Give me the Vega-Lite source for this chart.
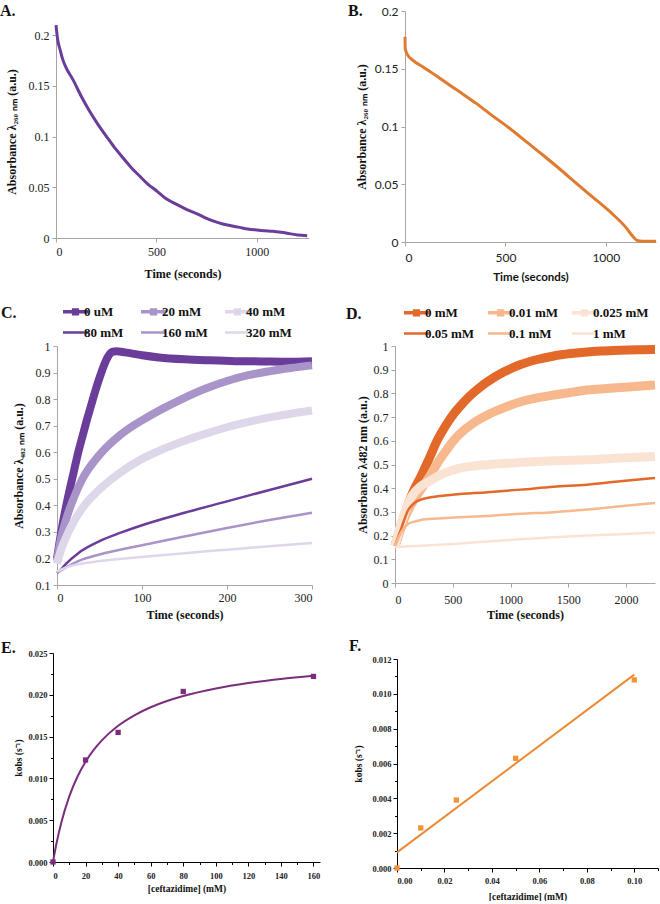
{
  "$schema": "https://vega.github.io/schema/vega-lite/v6.json",
  "background": "white",
  "padding": {"left": 0, "top": 3, "right": 0, "bottom": 0},
  "autosize": {"type": "pad"},
  "config": {
    "view": {"stroke": null},
    "font": "Liberation Serif",
    "axis": {"grid": false, "labelOverlap": false, "domainColor": "#a6a6a6", "tickColor": "#a6a6a6", "labelColor": "#222222", "titleColor": "#111111", "labelFont": "Liberation Serif", "titleFont": "Liberation Serif", "labelFontSize": 12, "titleFontSize": 12, "titleFontWeight": "bold", "tickSize": 4, "labelPadding": 3},
    "title": {"font": "Liberation Serif", "fontSize": 16, "fontWeight": "bold", "color": "#111111", "anchor": "start", "frame": "group"}
  },
  "datasets": {
    "A": [
      {"t":0,"v":0.2098},{"t":8,"v":0.196},{"t":22,"v":0.1845},{"t":33,"v":0.1763},{"t":50,"v":0.168},{"t":83,"v":0.1566},{"t":125,"v":0.140},{"t":166,"v":0.1254},{"t":208,"v":0.1123},{"t":249,"v":0.1008},{"t":291,"v":0.0893},{"t":332,"v":0.0794},{"t":374,"v":0.0696},{"t":415,"v":0.0614},{"t":457,"v":0.0532},{"t":500,"v":0.0466},{"t":540,"v":0.040},{"t":581,"v":0.0351},{"t":623,"v":0.0309},{"t":664,"v":0.0269},{"t":706,"v":0.0236},{"t":747,"v":0.0197},{"t":789,"v":0.0164},{"t":830,"v":0.0138},{"t":872,"v":0.0121},{"t":914,"v":0.0105},{"t":955,"v":0.0089},{"t":1000,"v":0.0079},{"t":1038,"v":0.0072},{"t":1080,"v":0.0066},{"t":1121,"v":0.0056},{"t":1163,"v":0.0043},{"t":1204,"v":0.003},{"t":1251,"v":0.0023}
    ],
    "B": [
      {"t":0,"v":0.1777},{"t":1,"v":0.168},{"t":5,"v":0.165},{"t":13,"v":0.162},{"t":38,"v":0.1575},{"t":88,"v":0.1517},{"t":138,"v":0.146},{"t":188,"v":0.140},{"t":272,"v":0.130},{"t":355,"v":0.120},{"t":438,"v":0.109},{"t":522,"v":0.0983},{"t":605,"v":0.0867},{"t":688,"v":0.0751},{"t":772,"v":0.063},{"t":855,"v":0.0506},{"t":938,"v":0.0384},{"t":1022,"v":0.026},{"t":1105,"v":0.0116},{"t":1130,"v":0.0058},{"t":1155,"v":0.0014},{"t":1180,"v":0.0006},{"t":1250,"v":0.0006}
    ],
    "C": [
      {"s":"0 uM","t":0,"v":0.2},{"s":"0 uM","t":5,"v":0.3},{"s":"0 uM","t":10,"v":0.385},{"s":"0 uM","t":15,"v":0.46},{"s":"0 uM","t":20,"v":0.53},{"s":"0 uM","t":25,"v":0.6},{"s":"0 uM","t":30,"v":0.66},{"s":"0 uM","t":35,"v":0.72},{"s":"0 uM","t":40,"v":0.775},{"s":"0 uM","t":45,"v":0.83},{"s":"0 uM","t":50,"v":0.88},{"s":"0 uM","t":55,"v":0.925},{"s":"0 uM","t":60,"v":0.96},{"s":"0 uM","t":65,"v":0.978},{"s":"0 uM","t":70,"v":0.98},{"s":"0 uM","t":80,"v":0.976},{"s":"0 uM","t":100,"v":0.965},{"s":"0 uM","t":120,"v":0.957},{"s":"0 uM","t":150,"v":0.95},{"s":"0 uM","t":180,"v":0.946},{"s":"0 uM","t":210,"v":0.943},{"s":"0 uM","t":240,"v":0.942},{"s":"0 uM","t":270,"v":0.941},{"s":"0 uM","t":300,"v":0.943},
      {"s":"20 mM","t":0,"v":0.19},{"s":"20 mM","t":5,"v":0.28},{"s":"20 mM","t":10,"v":0.34},{"s":"20 mM","t":20,"v":0.43},{"s":"20 mM","t":30,"v":0.5},{"s":"20 mM","t":50,"v":0.59},{"s":"20 mM","t":67,"v":0.645},{"s":"20 mM","t":85,"v":0.69},{"s":"20 mM","t":100,"v":0.72},{"s":"20 mM","t":125,"v":0.765},{"s":"20 mM","t":150,"v":0.805},{"s":"20 mM","t":175,"v":0.84},{"s":"20 mM","t":200,"v":0.868},{"s":"20 mM","t":225,"v":0.89},{"s":"20 mM","t":250,"v":0.905},{"s":"20 mM","t":275,"v":0.917},{"s":"20 mM","t":300,"v":0.927},
      {"s":"40 mM","t":0,"v":0.18},{"s":"40 mM","t":5,"v":0.235},{"s":"40 mM","t":10,"v":0.275},{"s":"40 mM","t":20,"v":0.34},{"s":"40 mM","t":30,"v":0.39},{"s":"40 mM","t":50,"v":0.46},{"s":"40 mM","t":75,"v":0.525},{"s":"40 mM","t":100,"v":0.575},{"s":"40 mM","t":125,"v":0.612},{"s":"40 mM","t":150,"v":0.643},{"s":"40 mM","t":175,"v":0.67},{"s":"40 mM","t":200,"v":0.694},{"s":"40 mM","t":225,"v":0.714},{"s":"40 mM","t":250,"v":0.731},{"s":"40 mM","t":275,"v":0.745},{"s":"40 mM","t":300,"v":0.757},
      {"s":"80 mM","t":0,"v":0.145},{"s":"80 mM","t":5,"v":0.16},{"s":"80 mM","t":10,"v":0.178},{"s":"80 mM","t":25,"v":0.22},{"s":"80 mM","t":50,"v":0.265},{"s":"80 mM","t":75,"v":0.297},{"s":"80 mM","t":100,"v":0.325},{"s":"80 mM","t":150,"v":0.372},{"s":"80 mM","t":200,"v":0.415},{"s":"80 mM","t":250,"v":0.458},{"s":"80 mM","t":300,"v":0.5},
      {"s":"160 mM","t":0,"v":0.145},{"s":"160 mM","t":10,"v":0.165},{"s":"160 mM","t":25,"v":0.19},{"s":"160 mM","t":50,"v":0.215},{"s":"160 mM","t":100,"v":0.25},{"s":"160 mM","t":150,"v":0.283},{"s":"160 mM","t":200,"v":0.315},{"s":"160 mM","t":250,"v":0.345},{"s":"160 mM","t":300,"v":0.372},
      {"s":"320 mM","t":0,"v":0.15},{"s":"320 mM","t":10,"v":0.165},{"s":"320 mM","t":25,"v":0.178},{"s":"320 mM","t":50,"v":0.19},{"s":"320 mM","t":100,"v":0.205},{"s":"320 mM","t":150,"v":0.22},{"s":"320 mM","t":200,"v":0.233},{"s":"320 mM","t":250,"v":0.246},{"s":"320 mM","t":300,"v":0.258}
    ],
    "D": [
      {"s":"0 mM","t":0,"v":0.157},{"s":"0 mM","t":40,"v":0.22},{"s":"0 mM","t":80,"v":0.283},{"s":"0 mM","t":152,"v":0.38},{"s":"0 mM","t":224,"v":0.45},{"s":"0 mM","t":300,"v":0.53},{"s":"0 mM","t":368,"v":0.604},{"s":"0 mM","t":440,"v":0.665},{"s":"0 mM","t":512,"v":0.716},{"s":"0 mM","t":584,"v":0.757},{"s":"0 mM","t":656,"v":0.793},{"s":"0 mM","t":728,"v":0.823},{"s":"0 mM","t":800,"v":0.849},{"s":"0 mM","t":944,"v":0.891},{"s":"0 mM","t":1087,"v":0.922},{"s":"0 mM","t":1231,"v":0.943},{"s":"0 mM","t":1375,"v":0.958},{"s":"0 mM","t":1519,"v":0.968},{"s":"0 mM","t":1663,"v":0.975},{"s":"0 mM","t":1807,"v":0.979},{"s":"0 mM","t":1950,"v":0.982},{"s":"0 mM","t":2100,"v":0.984},{"s":"0 mM","t":2250,"v":0.985},
      {"s":"0.01 mM","t":0,"v":0.157},{"s":"0.01 mM","t":40,"v":0.215},{"s":"0.01 mM","t":80,"v":0.27},{"s":"0.01 mM","t":152,"v":0.34},{"s":"0.01 mM","t":224,"v":0.394},{"s":"0.01 mM","t":300,"v":0.45},{"s":"0.01 mM","t":368,"v":0.506},{"s":"0.01 mM","t":440,"v":0.557},{"s":"0.01 mM","t":512,"v":0.604},{"s":"0.01 mM","t":584,"v":0.64},{"s":"0.01 mM","t":656,"v":0.667},{"s":"0.01 mM","t":728,"v":0.69},{"s":"0.01 mM","t":800,"v":0.709},{"s":"0.01 mM","t":944,"v":0.74},{"s":"0.01 mM","t":1087,"v":0.765},{"s":"0.01 mM","t":1231,"v":0.781},{"s":"0.01 mM","t":1375,"v":0.793},{"s":"0.01 mM","t":1519,"v":0.804},{"s":"0.01 mM","t":1663,"v":0.814},{"s":"0.01 mM","t":1807,"v":0.82},{"s":"0.01 mM","t":1950,"v":0.825},{"s":"0.01 mM","t":2100,"v":0.83},{"s":"0.01 mM","t":2250,"v":0.835},
      {"s":"0.025 mM","t":0,"v":0.157},{"s":"0.025 mM","t":40,"v":0.23},{"s":"0.025 mM","t":80,"v":0.29},{"s":"0.025 mM","t":109,"v":0.33},{"s":"0.025 mM","t":150,"v":0.37},{"s":"0.025 mM","t":224,"v":0.408},{"s":"0.025 mM","t":300,"v":0.43},{"s":"0.025 mM","t":368,"v":0.45},{"s":"0.025 mM","t":512,"v":0.478},{"s":"0.025 mM","t":656,"v":0.492},{"s":"0.025 mM","t":800,"v":0.499},{"s":"0.025 mM","t":1087,"v":0.509},{"s":"0.025 mM","t":1375,"v":0.516},{"s":"0.025 mM","t":1663,"v":0.52},{"s":"0.025 mM","t":1950,"v":0.527},{"s":"0.025 mM","t":2250,"v":0.534},
      {"s":"0.05 mM","t":0,"v":0.157},{"s":"0.05 mM","t":52,"v":0.227},{"s":"0.05 mM","t":109,"v":0.303},{"s":"0.05 mM","t":167,"v":0.338},{"s":"0.05 mM","t":224,"v":0.352},{"s":"0.05 mM","t":300,"v":0.361},{"s":"0.05 mM","t":368,"v":0.366},{"s":"0.05 mM","t":512,"v":0.373},{"s":"0.05 mM","t":800,"v":0.383},{"s":"0.05 mM","t":1087,"v":0.394},{"s":"0.05 mM","t":1375,"v":0.406},{"s":"0.05 mM","t":1663,"v":0.415},{"s":"0.05 mM","t":1950,"v":0.429},{"s":"0.05 mM","t":2250,"v":0.443},
      {"s":"0.1 mM","t":0,"v":0.157},{"s":"0.1 mM","t":52,"v":0.213},{"s":"0.1 mM","t":109,"v":0.248},{"s":"0.1 mM","t":167,"v":0.259},{"s":"0.1 mM","t":224,"v":0.266},{"s":"0.1 mM","t":368,"v":0.272},{"s":"0.1 mM","t":512,"v":0.276},{"s":"0.1 mM","t":800,"v":0.283},{"s":"0.1 mM","t":1087,"v":0.292},{"s":"0.1 mM","t":1375,"v":0.299},{"s":"0.1 mM","t":1663,"v":0.31},{"s":"0.1 mM","t":1950,"v":0.324},{"s":"0.1 mM","t":2250,"v":0.338},
      {"s":"1 mM","t":0,"v":0.152},{"s":"1 mM","t":224,"v":0.157},{"s":"1 mM","t":512,"v":0.165},{"s":"1 mM","t":800,"v":0.175},{"s":"1 mM","t":1087,"v":0.185},{"s":"1 mM","t":1375,"v":0.193},{"s":"1 mM","t":1663,"v":0.2},{"s":"1 mM","t":1950,"v":0.206},{"s":"1 mM","t":2250,"v":0.213}
    ],
    "Ecurve": [
      {"c":0,"k":0},{"c":2,"k":0.002086},{"c":5,"k":0.004643},{"c":10,"k":0.007852},{"c":15,"k":0.010201},{"c":20,"k":0.011995},{"c":25,"k":0.013411},{"c":30,"k":0.014556},{"c":40,"k":0.016295},{"c":50,"k":0.017553},{"c":60,"k":0.018506},{"c":70,"k":0.019253},{"c":80,"k":0.019854},{"c":100,"k":0.02076},{"c":120,"k":0.021412},{"c":140,"k":0.021903},{"c":160,"k":0.022287}
    ],
    "Epts": [
      {"c":0,"k":0},{"c":20,"k":0.0122},{"c":40,"k":0.0155},{"c":80,"k":0.0204},{"c":160,"k":0.0222}
    ],
    "Fline": [
      {"c":0,"k":0.0009},{"c":0.1,"k":0.0111}
    ],
    "Fpts": [
      {"c":0,"k":0},{"c":0.01,"k":0.0023},{"c":0.025,"k":0.0039},{"c":0.05,"k":0.0063},{"c":0.1,"k":0.0108}
    ]
  },
  "spacing": 18,
  "resolve": {"scale": {"color": "independent"}, "legend": {"color": "independent"}},
  "hconcat": [
    {
      "spacing": 26,
      "resolve": {"scale": {"color": "independent"}, "legend": {"color": "independent"}},
      "vconcat": [
        {
          "width": 256, "height": 227,
          "title": {"text": "A.", "dx": -53, "offset": -8},
          "data": {"name": "A"},
          "mark": {"type": "line", "color": "#6a3d9a", "strokeWidth": 3, "interpolate": "monotone"},
          "encoding": {
            "x": {"field": "t", "type": "quantitative", "scale": {"domain": [0, 1260], "nice": false, "range": [3, 256]}, "axis": {"values": [0, 500, 1000], "format": "d", "title": "Time (seconds)", "titlePadding": 11, "labelPadding": 4}},
            "y": {"field": "v", "type": "quantitative", "scale": {"domain": [0, 0.21], "nice": false, "range": [227, 14]}, "axis": {"values": [0, 0.05, 0.1, 0.15, 0.2], "format": "~g", "offset": -3, "title": "Absorbance λ₂₆₀ ₙₘ (a.u.)", "titlePadding": 10}}
          }
        },
        {
          "spacing": 20,
          "resolve": {"scale": {"color": "independent"}, "legend": {"color": "independent"}},
          "vconcat": [
            {
              "width": 259, "height": 239,
              "title": {"text": "C.", "dx": -52, "dy": 16, "offset": 0},
              "data": {"name": "C"},
              "encoding": {
                "x": {"field": "t", "type": "quantitative", "scale": {"domain": [0, 300], "nice": false, "range": [4, 259]}, "axis": {"values": [0, 100, 200, 300], "format": "d", "title": "Time (seconds)", "titlePadding": 6, "labelPadding": 3}},
                "y": {"field": "v", "type": "quantitative", "scale": {"domain": [0.1, 1], "nice": false, "zero": false}, "axis": {"values": [0.1, 0.2, 0.3, 0.4, 0.5, 0.6, 0.7, 0.8, 0.9, 1], "format": "~g", "offset": -4, "title": "Absorbance λ₄₈₂ ₙₘ (a.u.)", "titlePadding": 10}},
                "color": {"field": "s", "type": "nominal", "scale": {"domain": ["0 uM", "20 mM", "40 mM", "80 mM", "160 mM", "320 mM"], "range": ["#6a3d9a", "#a894c8", "#ded7ea", "#6a3d9a", "#a894c8", "#ded7ea"]},
                  "legend": {"orient": "top", "direction": "horizontal", "columns": 3, "title": null, "symbolType": "stroke", "symbolSize": 625, "symbolStrokeWidth": 3, "symbolOffset": 16, "labelFont": "Liberation Serif", "labelFontSize": 13, "labelFontWeight": "bold", "labelColor": "#111111", "columnPadding": 7, "rowPadding": 5, "offset": -5, "labelOffset": 2, "padding": 0,
                    "encode": {"symbols": {"update": {
                      "shape": {"signal": "indexof(['0 uM','20 mM','40 mM'], datum.value) >= 0 ? 'M-1,0H1M-0.15,-0.15H0.15V0.15H-0.15Z' : 'stroke'"},
                      "strokeWidth": {"signal": "indexof(['0 uM','20 mM','40 mM'], datum.value) >= 0 ? 3.5 : 2.5"},
                      "fill": {"signal": "datum.value === '0 uM' ? '#6a3d9a' : datum.value === '20 mM' ? '#a894c8' : datum.value === '40 mM' ? '#ded7ea' : 'transparent'"}
                    }}}}
                }
              },
              "layer": [
                {"transform": [{"filter": "indexof(['0 uM','20 mM','40 mM'], datum.s) >= 0"}], "mark": {"type": "line", "strokeWidth": 8, "interpolate": "monotone"}},
                {"transform": [{"filter": "indexof(['0 uM','20 mM','40 mM'], datum.s) < 0"}], "mark": {"type": "line", "strokeWidth": 2.5, "interpolate": "monotone"}}
              ]
            },
            {
              "width": 267, "height": 209,
              "title": {"text": "E.", "dx": -52, "dy": 7, "offset": 0},
              "resolve": {"axis": {"x": "independent", "y": "independent"}},
              "layer": [
                {
                  "data": {"name": "Ecurve"},
                  "mark": {"type": "line", "color": "#7b2d7d", "strokeWidth": 2, "interpolate": "monotone"},
                  "encoding": {
                    "x": {"field": "c", "type": "quantitative", "scale": {"domain": [0, 164], "nice": false},
                      "axis": {"orient": "bottom", "values": [0,20,40,60,80,100,120,140,160], "title": "[ceftazidime] (mM)", "domainColor": "#000000", "tickColor": "#000000", "labelFontSize": 8.5, "labelFontWeight": "bold", "titleFontSize": 9.5, "labelPadding": 5, "titlePadding": 4}},
                    "y": {"field": "k", "type": "quantitative", "scale": {"domain": [0, 0.025], "nice": false},
                      "axis": {"orient": "left", "values": [0,0.005,0.01,0.015,0.02,0.025], "format": ".3f", "title": "kobs (s⁻¹)", "domainColor": "#000000", "tickColor": "#000000", "labelFontSize": 8.5, "labelFontWeight": "bold", "titleFontSize": 9.5, "labelPadding": 2, "titlePadding": 4}}
                  }
                },
                {
                  "data": {"name": "Epts"},
                  "mark": {"type": "square", "color": "#7b2d7d", "size": 28, "opacity": 1},
                  "encoding": {
                    "x": {"field": "c", "type": "quantitative", "axis": {"orient": "bottom", "values": [10,30,50,70,90,110,130,150], "labels": false, "domain": false, "title": null, "tickSize": 2.5, "tickColor": "#000000"}},
                    "y": {"field": "k", "type": "quantitative", "axis": {"orient": "left", "values": [0.0025,0.0075,0.0125,0.0175,0.0225], "labels": false, "domain": false, "title": null, "tickSize": 2.5, "tickColor": "#000000"}}
                  }
                }
              ]
            }
          ]
        }
      ]
    },
    {
      "spacing": 23,
      "resolve": {"scale": {"color": "independent"}, "legend": {"color": "independent"}},
      "vconcat": [
        {
          "width": 261, "height": 231,
          "title": {"text": "B.", "dx": -47, "offset": -14},
          "data": {"name": "B"},
          "mark": {"type": "line", "color": "#e07a2e", "strokeWidth": 3, "interpolate": "monotone"},
          "encoding": {
            "x": {"field": "t", "type": "quantitative", "scale": {"domain": [0, 1250], "nice": false, "range": [10, 261]}, "axis": {"values": [0, 500, 1000], "format": "d", "title": "Time (seconds)", "labelFont": "Lato", "titleFont": "Lato", "titleFontSize": 11.5, "titlePadding": 8, "labelPadding": 6}},
            "y": {"field": "v", "type": "quantitative", "scale": {"domain": [0, 0.2], "nice": false}, "axis": {"values": [0, 0.05, 0.1, 0.15, 0.2], "format": "~g", "offset": -10, "labelFont": "Lato", "title": "Absorbance λ₂₆₀ ₙₘ (a.u.)", "titlePadding": 6}}
          }
        },
        {
          "spacing": 18,
          "resolve": {"scale": {"color": "independent"}, "legend": {"color": "independent"}},
          "vconcat": [
            {
              "width": 260, "height": 237,
              "title": {"text": "D.", "dx": -49, "dy": 16, "offset": 0},
              "data": {"name": "D"},
              "encoding": {
                "x": {"field": "t", "type": "quantitative", "scale": {"domain": [0, 2250], "nice": false}, "axis": {"values": [0, 500, 1000, 1500, 2000], "format": "d", "title": "Time (seconds)", "titlePadding": 4, "labelPadding": 7}},
                "y": {"field": "v", "type": "quantitative", "scale": {"domain": [0, 1], "nice": false}, "axis": {"values": [0, 0.1, 0.2, 0.3, 0.4, 0.5, 0.6, 0.7, 0.8, 0.9, 1], "format": "~g", "title": "Absorbance λ482 nm (a.u.)", "titlePadding": 4}},
                "color": {"field": "s", "type": "nominal", "scale": {"domain": ["0 mM", "0.01 mM", "0.025 mM", "0.05 mM", "0.1 mM", "1 mM"], "range": ["#e2692a", "#f6b88c", "#fbe3d3", "#e2692a", "#f6b88c", "#fbe3d3"]},
                  "legend": {"orient": "top", "direction": "horizontal", "columns": 3, "title": null, "symbolType": "stroke", "symbolSize": 625, "symbolStrokeWidth": 3, "symbolOffset": 15, "labelFont": "Liberation Serif", "labelFontSize": 13, "labelFontWeight": "bold", "labelColor": "#111111", "columnPadding": 4, "rowPadding": 5, "offset": -10, "labelOffset": 2, "padding": 0,
                    "encode": {"symbols": {"update": {
                      "shape": {"signal": "indexof(['0 mM','0.01 mM','0.025 mM'], datum.value) >= 0 ? 'M-1,0H1M-0.15,-0.15H0.15V0.15H-0.15Z' : 'stroke'"},
                      "strokeWidth": {"signal": "indexof(['0 mM','0.01 mM','0.025 mM'], datum.value) >= 0 ? 3.5 : 2.5"},
                      "fill": {"signal": "datum.value === '0 mM' ? '#e2692a' : datum.value === '0.01 mM' ? '#f6b88c' : datum.value === '0.025 mM' ? '#fbe3d3' : 'transparent'"}
                    }}}}
                }
              },
              "layer": [
                {"transform": [{"filter": "indexof(['0 mM','0.01 mM','0.025 mM'], datum.s) >= 0"}], "mark": {"type": "line", "strokeWidth": 9, "interpolate": "monotone"}},
                {"transform": [{"filter": "indexof(['0 mM','0.01 mM','0.025 mM'], datum.s) < 0"}], "mark": {"type": "line", "strokeWidth": 2.5, "interpolate": "monotone"}}
              ]
            },
            {
              "width": 263, "height": 209,
              "title": {"text": "F.", "dx": -46, "dy": 0, "offset": 1},
              "resolve": {"axis": {"x": "independent", "y": "independent"}},
              "layer": [
                {
                  "data": {"name": "Fline"},
                  "mark": {"type": "line", "color": "#ee8a35", "strokeWidth": 2},
                  "encoding": {
                    "x": {"field": "c", "type": "quantitative", "scale": {"domain": [0, 0.11], "nice": false, "range": [2, 263]},
                      "axis": {"orient": "bottom", "values": [0,0.02,0.04,0.06,0.08,0.1], "format": ".2f", "title": "[ceftazidime] (mM)", "domainColor": "#000000", "tickColor": "#000000", "labelFontSize": 8.5, "labelFontWeight": "bold", "titleFontSize": 9.5, "labelPadding": 4, "titlePadding": 7}},
                    "y": {"field": "k", "type": "quantitative", "scale": {"domain": [0, 0.012], "nice": false},
                      "axis": {"orient": "left", "values": [0,0.002,0.004,0.006,0.008,0.01,0.012], "format": ".3f", "offset": -2, "title": "kobs (s⁻¹)", "domainColor": "#000000", "tickColor": "#000000", "labelFontSize": 8.5, "labelFontWeight": "bold", "titleFontSize": 9.5, "labelPadding": 2, "titlePadding": 8}}
                  }
                },
                {
                  "data": {"name": "Fpts"},
                  "mark": {"type": "square", "color": "#f39237", "size": 28, "opacity": 1},
                  "encoding": {
                    "x": {"field": "c", "type": "quantitative", "axis": {"orient": "bottom", "values": [0.01,0.03,0.05,0.07,0.09,0.11], "labels": false, "domain": false, "title": null, "tickSize": 2.5, "tickColor": "#000000"}},
                    "y": {"field": "k", "type": "quantitative", "axis": {"orient": "left", "offset": -2, "values": [0.001,0.003,0.005,0.007,0.009,0.011], "labels": false, "domain": false, "title": null, "tickSize": 2.5, "tickColor": "#000000"}}
                  }
                }
              ]
            }
          ]
        }
      ]
    }
  ]
}
